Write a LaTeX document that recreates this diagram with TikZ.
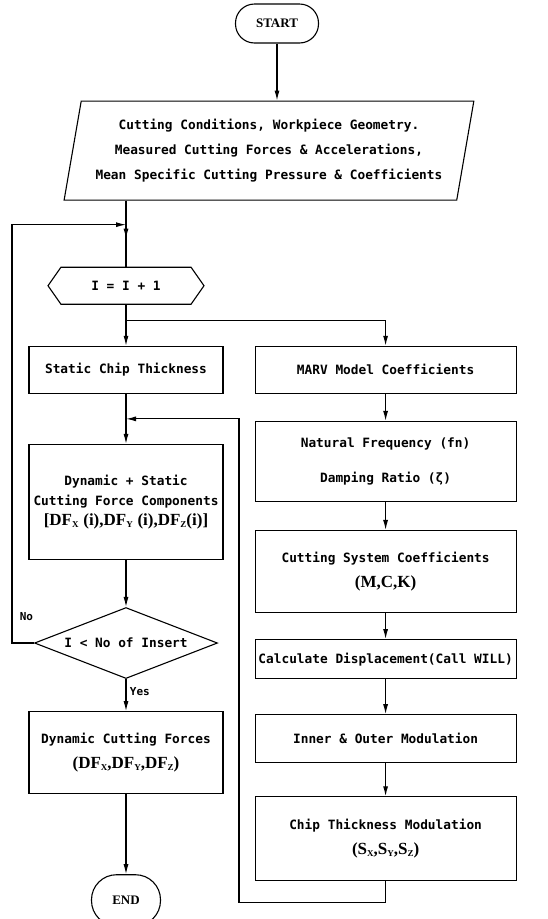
\documentclass[tikz,border=0pt]{standalone}
\usepackage{fontspec}
\setmainfont{Liberation Serif}
\setmonofont{DejaVu Sans Mono}
\usetikzlibrary{arrows.meta,positioning,shapes.geometric,shapes.symbols,calc}

% lowered small letter for force/feed components
\newcommand{\fsub}[1]{\raisebox{-0.25ex}{\fontsize{9}{9}\selectfont #1}}
\newcommand{\rmbig}{\rmfamily\bfseries\fontsize{17}{20}\selectfont}

\begin{document}
\begin{tikzpicture}[
  font=\ttfamily\bfseries\fontsize{12.8}{25}\selectfont,
  >={Latex[length=10pt,width=5pt]},
  line width=1.1pt,
  box/.style={draw, inner sep=3pt, align=center},
  lbox/.style={box, minimum width=194pt},
  rbox/.style={box, minimum width=261pt},
  term/.style={draw, rounded corners=19pt, minimum width=83pt, minimum height=39pt,
    font=\rmfamily\bfseries\fontsize{13}{15}\selectfont},
  io/.style={draw, trapezium, trapezium left angle=77, trapezium right angle=103,
    trapezium stretches=true, minimum width=412pt, minimum height=99pt, align=center},
  hexa/.style={draw, signal, signal to=west and east, signal pointer angle=110,
    minimum width=156pt, minimum height=37pt},
  cond/.style={draw, diamond, aspect=2.6, minimum width=183pt, minimum height=71pt, inner sep=0pt},
  arrow/.style={->},
  lbl/.style={font=\ttfamily\bfseries\fontsize{11}{11}\selectfont}
]
\path[use as bounding box] (0,0) rectangle (547pt,-919pt);

\node[term] (start) at (277pt,-23.5pt) {START};
\node[io, below=57pt of start, xshift=-8pt] (input) {Cutting Conditions, Workpiece Geometry.\\Measured Cutting Forces \& Accelerations,\\Mean Specific Cutting Pressure \& Coefficients};
\node[hexa, below=66pt of input, xshift=-143pt] (inc) {I = I + 1};

% left column: force loop over the inserts
\node[lbox, minimum height=47pt, below=41pt of inc] (static) {Static Chip Thickness};
\node[lbox, minimum height=115pt, below=50pt of static] (dyn) {Dynamic + Static\\[-5pt]Cutting Force Components\\[-5pt]{\rmbig [DF\fsub{X}\;(i),DF\fsub{Y}\;(i),DF\fsub{Z}(i)]}};
\node[cond, below=47pt of dyn] (more) {I < No of Insert};
\node[lbox, minimum height=82pt, below=32pt of more] (force) {Dynamic Cutting Forces\\{\rmbig (DF\fsub{X},DF\fsub{Y},DF\fsub{Z})}};
\node[term, rounded corners=25pt, minimum width=69pt, minimum height=51pt, below=80pt of force] (stop) {END};

% right column: vibration model
\node[rbox, minimum height=47pt, right=31pt of static] (marv) {MARV Model Coefficients};
\node[rbox, minimum height=80pt, below=27pt of marv] (nat) {Natural Frequency (fn)\\[10pt]Damping Ratio (ζ)};
\node[rbox, minimum height=82pt, below=28pt of nat] (sys) {Cutting System Coefficients\\{\rmbig (M,C,K)}};
\node[rbox, minimum height=39pt, below=26pt of sys] (disp) {Calculate Displacement(Call WILL)};
\node[rbox, minimum height=48pt, below=35pt of disp] (mod) {Inner \& Outer Modulation};
\node[rbox, minimum height=84pt, below=33pt of mod] (chip) {Chip Thickness Modulation\\{\rmbig (S\fsub{X},S\fsub{Y},S\fsub{Z})}};

\coordinate (back) at ($(input.south -| inc.north)+(0,-24pt)$);
\coordinate (intop) at ($(back)+(0,-14pt)$);
\coordinate[below=16pt of inc.south] (fork);
\coordinate (join) at ($(static.south)+(0,-25pt)$);
\coordinate (noturn) at ($(more.west)+(-22pt,0)$);
\coordinate (retturn) at ($(chip.south)+(0,-21pt)$);
\coordinate (retx) at ($(join)+(113pt,0)$);

\draw[arrow] (start) -- (start |- input.north);
\draw (input.south -| inc.north) -- (inc.north);
\draw[arrow] (back) -- (intop);
\draw[arrow] (inc.south) -- (static.north);
\draw[arrow] (fork) -| (marv.north);
\draw[arrow] (static) -- (dyn);
\draw[arrow] (dyn) -- (more);
\draw[arrow] (more) -- node[lbl, right, pos=0.4] {Yes} (force);
\draw[arrow] (force) -- (stop);
\draw[arrow] (more.west) -- (noturn) |- (back);
\node[lbl, above right=18pt and 4pt of noturn] (no) {No};

\draw[arrow] (marv) -- (nat);
\draw[arrow] (nat) -- (sys);
\draw[arrow] (sys) -- (disp);
\draw[arrow] (disp) -- (mod);
\draw[arrow] (mod) -- (chip);
\draw[arrow] (chip.south) -- (retturn) -| (retx) -- (join);
\end{tikzpicture}
\end{document}
